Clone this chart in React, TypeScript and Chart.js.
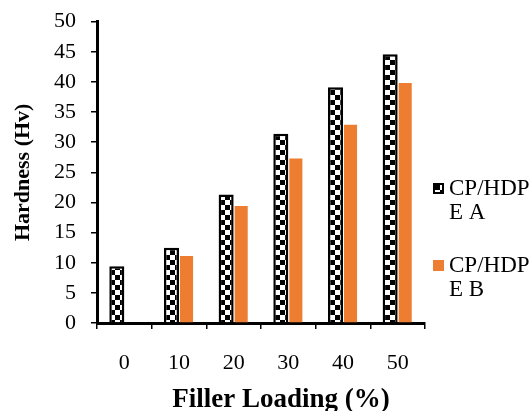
import React, { useEffect, useRef } from "react";
import { Chart, registerables } from "chart.js";

Chart.register(...registerables);

const categories = ["0", "10", "20", "30", "40", "50"];
const seriesALabel = ["CP/HDP", "E A"];
const seriesBLabel = ["CP/HDP", "E B"];
const seriesA = [9.4, 12.5, 21.3, 31.4, 39.1, 44.6];
const seriesB = [0, 11.1, 19.4, 27.3, 32.9, 39.8];
const yMin = 0;
const yMax = 50;
const yStep = 5;
const xTitle = "Filler Loading (%)";
const yTitle = "Hardness (Hv)";

const ORANGE = "#ED7D31";
const SERIF = "'Liberation Serif', 'Times New Roman', serif";

function makeChecker(): CanvasPattern | string {
  const c = document.createElement("canvas");
  c.width = 10;
  c.height = 10;
  const g = c.getContext("2d");
  if (!g) return "#000";
  g.fillStyle = "#000";
  g.fillRect(0, 0, 10, 10);
  g.fillStyle = "#fff";
  g.fillRect(5, 0, 5, 5);
  g.fillRect(0, 5, 5, 5);
  const p = g.createPattern(c, "repeat");
  return p || "#000";
}

export default function App() {
  const ref = useRef<HTMLCanvasElement | null>(null);

  useEffect(() => {
    if (!ref.current) return;
    const checker = makeChecker();

    const legendPlugin = {
      id: "sideLegend",
      afterDraw(chart: any) {
        const ctx = chart.ctx as CanvasRenderingContext2D;
        ctx.save();
        // x axis title, drawn slightly right of centre as in the reference
        ctx.font = `bold 27px ${SERIF}`;
        ctx.fillStyle = "#000";
        ctx.textAlign = "center";
        ctx.textBaseline = "alphabetic";
        ctx.fillText(xTitle, 281, 407);

        ctx.font = `23px ${SERIF}`;
        ctx.textAlign = "left";
        const items = [
          { lines: seriesALabel, y: 195, fill: checker, stroke: true },
          { lines: seriesBLabel, y: 272, fill: ORANGE, stroke: false },
        ];
        for (const it of items) {
          const bx = 433;
          const by = it.y - 12;
          ctx.fillStyle = it.fill as any;
          ctx.fillRect(bx, by, 11, 11);
          if (it.stroke) {
            ctx.strokeStyle = "#000";
            ctx.lineWidth = 2;
            ctx.strokeRect(bx + 1, by + 1, 9, 9);
          }
          ctx.fillStyle = "#000";
          it.lines.forEach((t, i) => {
            ctx.fillText(t, 449, it.y + i * 24);
          });
        }
        ctx.restore();
      },
    };

    const chart = new Chart(ref.current, {
      type: "bar",
      data: {
        labels: categories,
        datasets: [
          {
            label: seriesALabel.join(""),
            data: seriesA,
            backgroundColor: checker as any,
            borderColor: "#000",
            borderWidth: 2.5,
            barPercentage: 1,
            categoryPercentage: 0.55,
          },
          {
            label: seriesBLabel.join(""),
            data: seriesB,
            backgroundColor: ORANGE,
            borderWidth: 0,
            barPercentage: 0.87,
            categoryPercentage: 0.55,
          },
        ],
      },
      options: {
        animation: false,
        responsive: false,
        maintainAspectRatio: false,
        layout: { padding: { top: 20, right: 106, left: 0, bottom: 0 } },
        plugins: {
          legend: { display: false },
          tooltip: { enabled: false },
        },
        scales: {
          x: {
            grid: {
              drawOnChartArea: false,
              drawTicks: true,
              tickLength: 6,
              color: "#000",
              lineWidth: 1.5,
            },
            border: { display: true, color: "#000", width: 3 },
            ticks: {
              color: "#000",
              font: { family: SERIF, size: 22 },
              padding: 21,
              maxRotation: 0,
            },
            title: { display: false },
            afterFit(scale: any) {
              scale.height = 88;
            },
          },
          y: {
            min: yMin,
            max: yMax,
            grid: {
              drawOnChartArea: false,
              drawTicks: true,
              tickLength: 6,
              color: "#000",
              lineWidth: 1.5,
            },
            border: { display: true, color: "#000", width: 3 },
            ticks: {
              stepSize: yStep,
              color: "#000",
              font: { family: SERIF, size: 22, lineHeight: 0.6 },
              padding: 15,
            },
            title: {
              display: true,
              text: yTitle,
              color: "#000",
              font: { family: SERIF, size: 22, weight: "bold", lineHeight: 1.2 },
              padding: { top: 10, bottom: 0 },
            },
            afterFit(scale: any) {
              scale.width = 97;
            },
          },
        },
      },
      plugins: [legendPlugin],
    });
    return () => chart.destroy();
  }, []);

  return (
    <div style={{ position: "fixed", left: 0, top: 0, width: 531, height: 411, background: "#fff" }}>
      <canvas ref={ref} width={531} height={411} style={{ width: 531, height: 411, display: "block" }} />
    </div>
  );
}
